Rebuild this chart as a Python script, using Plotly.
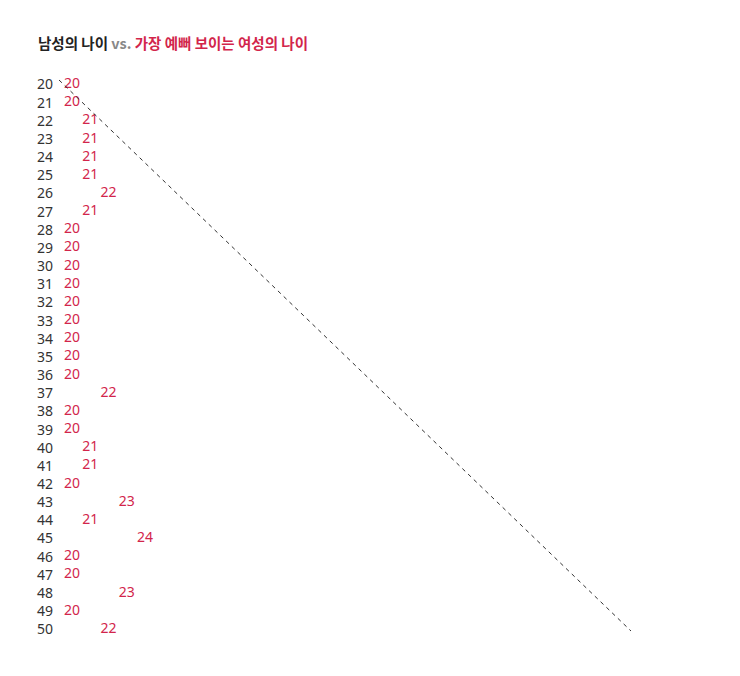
import plotly.graph_objects as go

# 남성의 나이 (rows) and the age of woman who looks most beautiful to them
men_ages = list(range(20, 51))
women_ages = [20, 20, 21, 21, 21, 21, 22, 21, 20, 20,
              20, 20, 20, 20, 20, 20, 20, 22, 20, 20,
              21, 21, 20, 23, 21, 24, 20, 20, 23, 20, 22]

RED = "#d2254b"
FONT = "Noto Sans CJK KR"
NUM_FONT = "Noto Sans"

fig = go.Figure()

fig.add_trace(go.Scatter(
    x=women_ages, y=men_ages,
    mode="text",
    text=[str(v) for v in women_ages],
    textposition="middle center",
    textfont=dict(color=RED, size=14, family=NUM_FONT),
    cliponaxis=False,
    hoverinfo="skip",
    showlegend=False,
))

# dashed diagonal reference line, corner to corner of the plot area
fig.add_shape(
    type="line", xref="x domain", yref="y domain",
    x0=0, y0=1, x1=1, y1=0,
    line=dict(color="#333", width=1, dash="4px,4px"),
)

fig.update_layout(
    width=740, height=676,
    paper_bgcolor="white", plot_bgcolor="white",
    margin=dict(l=51, r=117, t=72, b=53),
    font=dict(family=FONT, color="#333"),
    title=dict(
        text="<b>남성의 나이</b> <b><span style='color:#888'>vs.</span></b> "
             f"<b><span style='color:{RED}'>가장 예뻐 보이는 여성의 나이</span></b>",
        font=dict(size=14.5, color="#222", family=FONT),
        xref="container", yref="container",
        x=30 / 740, xanchor="left",
        y=1 - 36 / 676, yanchor="middle",
    ),
    xaxis=dict(range=[19.29, 50.63], visible=False, fixedrange=True),
    yaxis=dict(
        range=[50.09, 19.75],
        tickmode="array", tickvals=men_ages,
        ticktext=[str(v) for v in men_ages],
        tickfont=dict(size=14, color="#333", family=NUM_FONT),
        showgrid=False, zeroline=False, showline=False,
        ticks="", ticklabelstandoff=5,
    ),
)

fig.write_html("out.html")
